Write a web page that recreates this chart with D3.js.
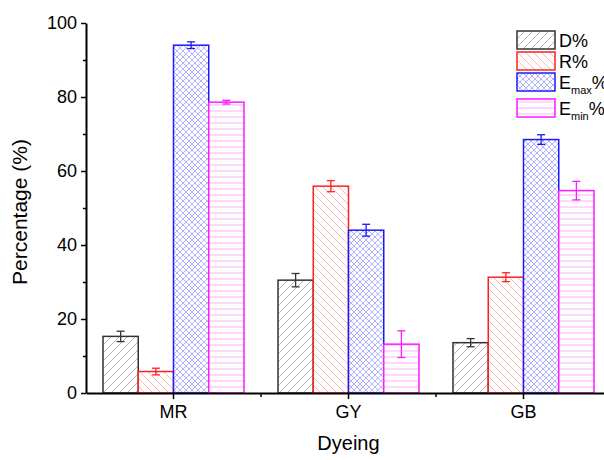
<!DOCTYPE html>
<html>
<head>
<meta charset="utf-8">
<script src="https://cdn.jsdelivr.net/npm/d3@7"></script>
<style>
  body { margin: 0; background: #fff; }
  svg { font-family: "Liberation Sans", Arial, sans-serif; }
</style>
</head>
<body>
<svg id="chart" width="604" height="460"></svg>
<script>
// Data
var dyes = ["MR", "GY", "GB"];
var seriesKeys = ["D", "R", "Emax", "Emin"];
var dValues = [15.3, 30.5, 13.6];
var dErrors = [1.4, 1.8, 1.1];
var rValues = [5.8, 55.9, 31.3];
var rErrors = [0.9, 1.5, 1.2];
var emaxValues = [94.0, 44.0, 68.5];
var emaxErrors = [0.9, 1.6, 1.3];
var eminValues = [78.6, 13.2, 54.7];
var eminErrors = [0.5, 3.6, 2.5];
var yTicks = [0, 20, 40, 60, 80, 100];

var values = {D: dValues, R: rValues, Emax: emaxValues, Emin: eminValues};
var errors = {D: dErrors, R: rErrors, Emax: emaxErrors, Emin: eminErrors};

// Colours for outline and hatch
var stroke = {D: "#333333", R: "#ff2020", Emax: "#1a1aff", Emin: "#ff1aff"};
var hatch = {D: "#b0b0b0", R: "#ffb0b0", Emax: "#aaaaff", Emin: "#ffb8ff"};

var svg = d3.select("#chart");
var margin = {top: 23, left: 86};
var height = 370;
var step = 175;

var x = d3.scaleBand().domain(dyes).range([margin.left, margin.left + step * dyes.length]);
var xs = d3.scaleBand().domain(seriesKeys).range([0, 141]);
var y = d3.scaleLinear().domain([0, 100]).range([margin.top + height, margin.top]);

// Hatch patterns
var defs = svg.append("defs");
function makePattern(id, size, draw) {
    var p = defs.append("pattern")
        .attr("id", id)
        .attr("patternUnits", "userSpaceOnUse")
        .attr("width", size).attr("height", size);
    p.append("rect").attr("width", size).attr("height", size).attr("fill", "#fff");
    draw(p);
}
makePattern("pat-D", 8, function(p) {
    p.append("path").attr("d", "M-1,1 l2,-2 M0,8 l8,-8 M7,9 l2,-2")
        .attr("stroke", hatch.D).attr("stroke-width", 0.9);
});
makePattern("pat-R", 8, function(p) {
    p.append("path").attr("d", "M-1,7 l2,2 M0,0 l8,8 M7,-1 l2,2")
        .attr("stroke", hatch.R).attr("stroke-width", 0.9);
});
makePattern("pat-Emax", 6, function(p) {
    p.append("path").attr("d", "M0,0 l6,6 M-1,5 l2,2 M5,-1 l2,2 M0,6 l6,-6 M-1,1 l2,-2 M5,7 l2,-2")
        .attr("stroke", hatch.Emax).attr("stroke-width", 0.9);
});
makePattern("pat-Emin", 6, function(p) {
    p.append("path").attr("d", "M0,3 h6")
        .attr("stroke", hatch.Emin).attr("stroke-width", 1.1);
});

// Bars
dyes.forEach(function(dye, i) {
    var gx = x(dye) + (x.bandwidth() - 141) / 2;
    seriesKeys.forEach(function(k) {
        var v = values[k][i], e = errors[k][i];
        var bx = gx + xs(k);
        svg.append("rect")
            .attr("x", bx)
            .attr("y", y(v))
            .attr("width", xs.bandwidth())
            .attr("height", y(0) - y(v))
            .attr("fill", "url(#pat-" + k + ")")
            .attr("stroke", stroke[k])
            .attr("stroke-width", 1.5);
        var cx = bx + xs.bandwidth() / 2;
        var eb = svg.append("g").attr("stroke", stroke[k]).attr("stroke-width", 1.3);
        eb.append("line").attr("x1", cx).attr("x2", cx).attr("y1", y(v - e)).attr("y2", y(v + e));
        eb.append("line").attr("x1", cx - 4).attr("x2", cx + 4).attr("y1", y(v + e)).attr("y2", y(v + e));
        eb.append("line").attr("x1", cx - 4).attr("x2", cx + 4).attr("y1", y(v - e)).attr("y2", y(v - e));
    });
});

// Y axis
var yAxis = svg.append("g")
    .attr("transform", "translate(" + margin.left + ",0)")
    .call(d3.axisLeft(y).tickValues(yTicks).tickSize(5).tickSizeOuter(0).tickPadding(4));
yAxis.select(".domain").attr("stroke-width", 2);
yAxis.selectAll(".tick line").attr("stroke-width", 1.5);
yAxis.selectAll(".tick text").style("font-size", "18px").attr("fill", "#000");
svg.append("g")
    .attr("transform", "translate(" + margin.left + ",0)")
    .call(d3.axisLeft(y).tickValues([10, 30, 50, 70, 90]).tickSize(3).tickFormat(""))
    .call(function(g) { g.select(".domain").remove(); })
    .selectAll(".tick line").attr("stroke-width", 1.5);

// X axis
var xAxis = svg.append("g")
    .attr("transform", "translate(0," + y(0) + ")")
    .call(d3.axisBottom(x).tickSize(6).tickSizeOuter(0).tickPadding(6));
xAxis.select(".domain").attr("stroke-width", 2);
xAxis.selectAll(".tick line").attr("stroke-width", 1.5);
xAxis.selectAll(".tick text").style("font-size", "18px").attr("fill", "#000");
svg.append("g")
    .attr("transform", "translate(0," + y(0) + ")")
    .selectAll("line")
    .data(dyes.slice(1))
    .enter().append("line")
    .attr("x1", d => x(d)).attr("x2", d => x(d))
    .attr("y1", 0).attr("y2", 4)
    .attr("stroke", "#000").attr("stroke-width", 1.5);

// Axis titles
svg.append("text")
    .attr("transform", "translate(27," + (margin.top + height / 2 + 4) + ") rotate(-90)")
    .attr("text-anchor", "middle")
    .style("font-size", "21px")
    .text("Percentage (%)");
svg.append("text")
    .attr("x", x("GY") + x.bandwidth() / 2)
    .attr("y", 450)
    .attr("text-anchor", "middle")
    .style("font-size", "20px")
    .text("Dyeing");

// Legend
var legend = svg.append("g").attr("transform", "translate(517,31)");
var legendY = {D: 0, R: 21, Emax: 42, Emin: 68};
seriesKeys.forEach(function(k) {
    var row = legend.append("g").attr("transform", "translate(0," + legendY[k] + ")");
    row.append("rect")
        .attr("width", 38).attr("height", 18)
        .attr("fill", "url(#pat-" + k + ")")
        .attr("stroke", stroke[k]).attr("stroke-width", 1.5);
    var t = row.append("text").attr("x", 42).attr("y", 16).style("font-size", "18px");
    if (k === "D") t.text("D%");
    else if (k === "R") t.text("R%");
    else {
        t.append("tspan").text("E");
        t.append("tspan").attr("dy", 5).style("font-size", "11px").text(k === "Emax" ? "max" : "min");
        t.append("tspan").attr("dy", -5).text("%");
    }
});
</script>
</body>
</html>
